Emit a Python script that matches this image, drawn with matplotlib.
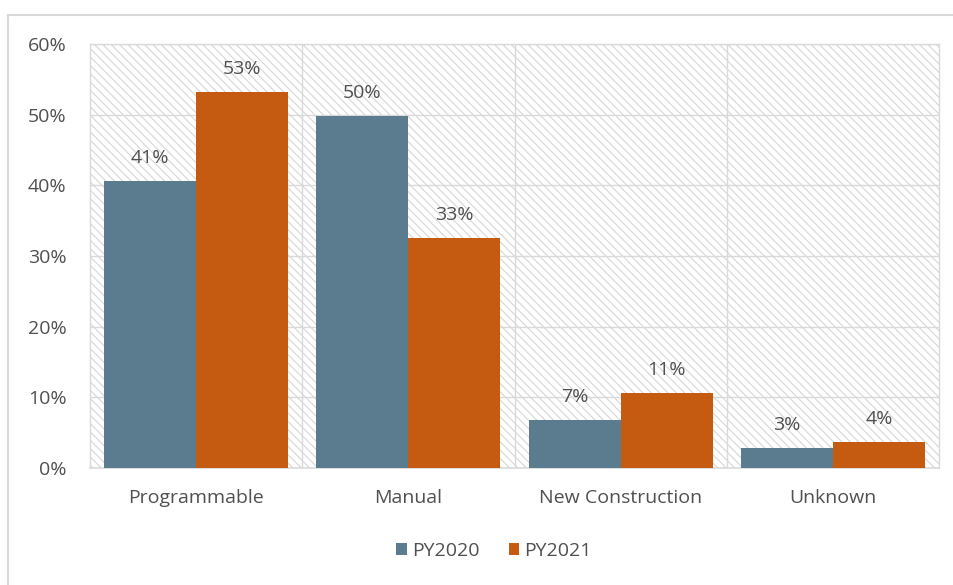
import matplotlib
matplotlib.use("Agg")
import matplotlib.pyplot as plt
import numpy as np
from matplotlib.patches import Rectangle

categories = ["Programmable", "Manual", "New Construction", "Unknown"]
series_names = ["PY2020", "PY2021"]
py2020 = [40.6, 49.8, 6.8, 2.8]
py2021 = [53.2, 32.6, 10.6, 3.7]
yticks = [0, 10, 20, 30, 40, 50, 60]

blue = "#5B7B8F"
orange = "#C55A11"
text_col = "#505050"
grid_col = "#D9D9D9"

plt.rcParams["font.family"] = ["Open Sans", "DejaVu Sans"]
plt.rcParams["hatch.linewidth"] = 0.8
plt.rcParams["hatch.color"] = "#D6D6D6"

fs = 14

fig = plt.figure(figsize=(9.54, 5.85), dpi=100)
# chart frame
fig.patches.append(Rectangle((8 / 954, -0.1), 1.2, 1.1 - 15 / 585, transform=fig.transFigure,
                             fill=False, edgecolor=grid_col, linewidth=1.5))

ax = fig.add_axes([90 / 954, 1 - 468 / 585, (939 - 90) / 954, (468 - 44) / 585])
ax.set_facecolor("white")
ax.patch.set_hatch("\\\\\\\\")
ax.patch.set_edgecolor("#D6D6D6")
ax.patch.set_linewidth(0)

x = np.arange(len(categories))
w = 0.434
b1 = ax.bar(x - w / 2, py2020, width=w, color=blue, label=series_names[0], zorder=3)
b2 = ax.bar(x + w / 2, py2021, width=w, color=orange, label=series_names[1], zorder=3)

for bars, vals in ((b1, py2020), (b2, py2021)):
    for rect, v in zip(bars, vals):
        ax.annotate(f"{v:.0f}%", (rect.get_x() + rect.get_width() / 2, v),
                    xytext=(0, 10), textcoords="offset points", ha="center", va="bottom",
                    fontsize=fs, color=text_col)

ax.set_xlim(-0.5, 3.5)
ax.set_ylim(0, 60)
ax.set_yticks(yticks)
ax.set_yticklabels([f"{t}%" for t in yticks])
ax.set_xticks(x)
ax.set_xticklabels(categories)
ax.tick_params(axis="both", length=0, colors=text_col, labelsize=fs)
ax.tick_params(axis="y", pad=17)
ax.tick_params(axis="x", pad=15)

for t in yticks[1:]:
    ax.axhline(t, color=grid_col, linewidth=1, zorder=1)
for xv in [0.5, 1.5, 2.5]:
    ax.axvline(xv, color=grid_col, linewidth=1, zorder=1)

for side in ("top", "right", "left"):
    ax.spines[side].set_color(grid_col)
    ax.spines[side].set_linewidth(1)
ax.spines["bottom"].set_color(grid_col)
ax.spines["bottom"].set_linewidth(1.2)

leg = fig.legend(handles=[b1, b2], labels=series_names, loc="center",
                 bbox_to_anchor=(494 / 954, 1 - 551 / 585), ncol=2, frameon=False,
                 fontsize=fs, handlelength=0.55, handleheight=0.55, handletextpad=0.25,
                 columnspacing=1.5, labelcolor=text_col)

fig.savefig("out.png", dpi=100)
